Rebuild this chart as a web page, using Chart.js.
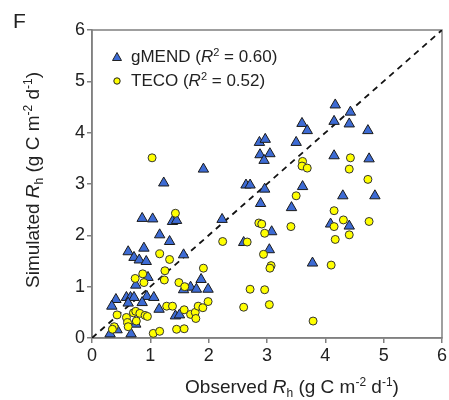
<!DOCTYPE html>
<html>
<head>
<meta charset="utf-8">
<script src="https://cdn.jsdelivr.net/npm/chart.js@4"></script>
<style>
  html, body { margin: 0; padding: 0; background: #fff; }
  canvas { display: block; }
</style>
</head>
<body>
<canvas id="chart" width="449" height="400"></canvas>
<script>
// observed vs simulated Rh (g C m-2 d-1)
const gmendX = [1.23, 0.86, 1.04, 1.38, 1.45, 1.16, 1.33, 0.62, 0.89, 0.72, 0.81, 0.93, 1.57, 0.96, 0.75, 1.87, 1.57, 1.69, 1.79, 1.99,
  0.41, 0.34, 0.59, 0.66, 0.72, 0.62, 0.94, 1.06, 0.86, 1.15, 1.43, 1.50, 0.75, 0.43, 0.31, 0.67,
  4.17, 4.43, 4.15, 4.41, 3.60, 3.69, 4.73, 2.87, 2.97, 3.50, 2.88, 3.05, 2.95, 4.15, 4.75, 1.91, 2.64, 2.71, 2.96, 3.61,
  2.89, 4.30, 4.85, 3.42, 2.23, 4.09, 4.41, 3.08, 2.60, 3.04, 3.78];
const gmendY = [3.02, 2.33, 2.32, 2.27, 2.29, 2.01, 1.88, 1.68, 1.75, 1.57, 1.52, 1.49, 1.62, 1.18, 1.03, 1.14, 0.94, 0.99, 0.95, 0.95,
  0.75, 0.62, 0.79, 0.79, 0.79, 0.68, 0.81, 0.79, 0.69, 0.56, 0.43, 0.45, 0.27, 0.16, 0.08, 0.08,
  4.54, 4.40, 4.22, 4.17, 4.18, 4.04, 4.04, 3.81, 3.87, 3.81, 3.57, 3.59, 3.46, 3.55, 3.49, 3.29, 2.98, 2.98, 2.90, 2.95,
  2.62, 2.77, 2.77, 2.54, 2.31, 2.22, 2.18, 2.07, 1.86, 1.72, 1.46];

const tecoX = [1.03, 1.43, 1.16, 1.33, 1.91, 1.25, 0.87, 0.74, 0.89, 1.24, 1.49, 1.59, 1.28, 1.38, 0.43, 0.59, 0.71, 0.75, 0.82, 0.91,
  0.95, 0.61, 0.62, 0.76, 0.38, 0.35, 1.58, 1.69, 1.77, 1.82, 1.90, 1.78, 1.45, 1.58, 1.05, 1.16,
  3.61, 3.60, 3.69, 4.43, 4.41, 4.73, 3.50, 4.15, 4.31, 4.15, 4.41, 4.75, 4.17, 2.86, 2.91, 3.41, 2.96, 2.24, 2.66, 2.94,
  3.07, 3.05, 4.10, 2.71, 2.96, 2.60, 3.04, 1.99, 3.79];
const tecoY = [3.51, 2.43, 1.64, 1.53, 1.36, 1.31, 1.25, 1.16, 1.08, 1.13, 1.08, 1.00, 0.62, 0.62, 0.45, 0.40, 0.49, 0.52, 0.48, 0.44,
  0.42, 0.30, 0.22, 0.33, 0.22, 0.17, 0.55, 0.46, 0.50, 0.62, 0.59, 0.38, 0.17, 0.18, 0.09, 0.13,
  3.44, 3.35, 3.31, 3.51, 3.29, 3.09, 2.77, 2.48, 2.30, 2.17, 2.01, 2.27, 1.92, 2.24, 2.22, 2.17, 2.04, 1.88, 1.87, 1.63,
  1.41, 1.36, 1.42, 0.95, 0.94, 0.60, 0.65, 0.71, 0.33];

const oneToOne = [0, 6];
const axisTicks = [0, 1, 2, 3, 4, 5, 6];

const FONT = '"Liberation Sans", Arial, sans-serif';
const TEXT = '#222';
const FRAME = '#808080';
const BLUE = '#3d6bd4';
const YELLOW = '#ffff00';

const pts = (xs, ys) => xs.map((x, i) => ({ x, y: ys[i] }));

// segments: [text, kind] with kind n | i | sup | sub
function richWidth(ctx, segs, size) {
    let w = 0;
    segs.forEach(([t, k]) => {
        ctx.font = segFont(k, size);
        w += ctx.measureText(t).width;
    });
    return w;
}
function segFont(k, size) {
    if (k === 'i') return 'italic ' + size + 'px ' + FONT;
    if (k === 'sup' || k === 'sub') return Math.round(size * 0.62) + 'px ' + FONT;
    return size + 'px ' + FONT;
}
function drawRich(ctx, segs, x, y, size, align) {
    let cx = align === 'center' ? x - richWidth(ctx, segs, size) / 2 : x;
    ctx.textBaseline = 'alphabetic';
    ctx.textAlign = 'left';
    ctx.fillStyle = TEXT;
    segs.forEach(([t, k]) => {
        ctx.font = segFont(k, size);
        let dy = 0;
        if (k === 'sup') dy = -size * 0.38;
        if (k === 'sub') dy = size * 0.2;
        ctx.fillText(t, cx, y + dy);
        cx += ctx.measureText(t).width;
    });
}

const xTitle = [['Observed ', 'n'], ['R', 'i'], ['h', 'sub'], [' (g C m', 'n'], ['-2', 'sup'], [' d', 'n'], ['-1', 'sup'], [')', 'n']];
const yTitle = [['Simulated ', 'n'], ['R', 'i'], ['h', 'sub'], [' (g C m', 'n'], ['-2', 'sup'], [' d', 'n'], ['-1', 'sup'], [')', 'n']];
const legendRows = [
    { label: [['gMEND (', 'n'], ['R', 'i'], ['2', 'sup'], [' = 0.60)', 'n']], marker: 'triangle' },
    { label: [['TECO (', 'n'], ['R', 'i'], ['2', 'sup'], [' = 0.52)', 'n']], marker: 'circle' }
];

const decorPlugin = {
    id: 'decor',
    beforeDatasetsDraw(chart) {
        const { ctx, chartArea: a } = chart;
        ctx.save();
        ctx.strokeStyle = FRAME;
        ctx.lineWidth = 1.5;
        ctx.strokeRect(a.left, a.top, a.right - a.left, a.bottom - a.top);
        ctx.restore();
    },
    afterDraw(chart) {
        const { ctx } = chart;
        ctx.save();
        // panel letter
        ctx.fillStyle = TEXT;
        ctx.font = '21px ' + FONT;
        ctx.textBaseline = 'alphabetic';
        ctx.fillText('F', 13, 28);
        // axis titles
        drawRich(ctx, xTitle, 292, 393, 19, 'center');
        ctx.save();
        ctx.translate(39, 180);
        ctx.rotate(-Math.PI / 2);
        drawRich(ctx, yTitle, 0, 0, 19, 'center');
        ctx.restore();
        // legend
        legendRows.forEach((row, i) => {
            const by = 62 + i * 24;
            const mx = 117, my = by - 5;
            ctx.lineWidth = 1;
            ctx.strokeStyle = '#222';
            if (row.marker === 'triangle') {
                ctx.fillStyle = BLUE;
                ctx.beginPath();
                ctx.moveTo(mx, my - 4.5);
                ctx.lineTo(mx + 4.5, my + 3.5);
                ctx.lineTo(mx - 4.5, my + 3.5);
                ctx.closePath();
            } else {
                ctx.fillStyle = YELLOW;
                ctx.beginPath();
                ctx.arc(mx, my, 3.2, 0, Math.PI * 2);
            }
            ctx.fill();
            ctx.stroke();
            drawRich(ctx, row.label, 131, by, 17, 'left');
        });
        ctx.restore();
    }
};

const axisOpts = (fit) => ({
    type: 'linear',
    min: 0,
    max: 6,
    afterBuildTicks: s => { s.ticks = axisTicks.map(v => ({ value: v })); },
    afterFit: fit,
    grid: { display: true, drawOnChartArea: false, drawTicks: true, tickLength: 5, color: FRAME, lineWidth: 1.5 },
    border: { display: true, color: FRAME, width: 1.5 },
    ticks: { color: TEXT, font: { family: FONT, size: 18 }, padding: 2 }
});

new Chart(document.getElementById('chart'), {
    type: 'scatter',
    data: {
        datasets: [
            {
                label: 'TECO',
                data: pts(tecoX, tecoY),
                pointStyle: 'circle',
                pointRadius: 4,
                backgroundColor: YELLOW,
                borderColor: '#333',
                borderWidth: 1,
                order: 0
            },
            {
                label: 'gMEND',
                data: pts(gmendX, gmendY),
                pointStyle: 'triangle',
                pointRadius: 6,
                backgroundColor: BLUE,
                borderColor: '#1a1a1a',
                borderWidth: 1,
                order: 1
            },
            {
                type: 'line',
                label: '1:1',
                data: pts(oneToOne, oneToOne),
                borderColor: '#111',
                borderWidth: 1.8,
                borderDash: [6, 5],
                pointRadius: 0,
                fill: false,
                order: 2
            }
        ]
    },
    options: {
        responsive: false,
        animation: false,
        devicePixelRatio: 1,
        layout: { padding: { top: 30, right: 6, bottom: 0, left: 0 } },
        plugins: { legend: { display: false }, tooltip: { enabled: false } },
        scales: {
            x: axisOpts(s => { s.height = 62; }),
            y: axisOpts(s => { s.width = 92; })
        }
    },
    plugins: [decorPlugin]
});
</script>
</body>
</html>
